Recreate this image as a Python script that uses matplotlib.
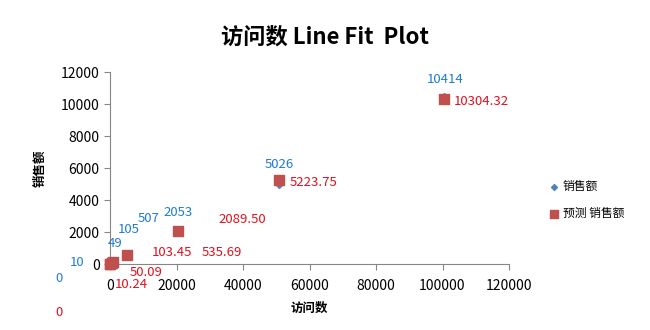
import matplotlib
matplotlib.use("Agg")
import matplotlib.pyplot as plt

plt.rcParams['font.family'] = ['Noto Sans CJK SC', 'DejaVu Sans']

# 访问数 / 销售额 / 预测 销售额
visits = [0, 100, 488, 1008, 5221, 20365, 50913, 100432]
sales = [0, 10, 49, 105, 507, 2053, 5026, 10414]
predicted = [0, 10.24, 50.09, 103.45, 535.69, 2089.50, 5223.75, 10304.32]
pred_text = ['0', '10.24', '50.09', '103.45', '535.69', '2089.50', '5223.75', '10304.32']

# label offsets from each marker, in pixels
sales_off = [(-51, -15), (-33, 1), (4, 20), (15, 33), (21, 37), (0, 19), (0, 19), (1, 18)]
pred_off = [(-51, -48), (21, -21), (35, -9), (59, 10), (95, 3), (65, 11), (34, -2), (37, -2)]

blue = '#4F81BD'
red = '#C0504D'
blue_txt = '#1F7AD6'
red_txt = '#E0101E'

fig = plt.figure(figsize=(6.5, 3.3), dpi=100)
ax = fig.add_axes([110 / 650, 66 / 330, 399 / 650, 192 / 330])

ax.scatter(visits, sales, marker='D', s=16, color=blue, label='销售额', zorder=3, clip_on=False)
ax.scatter(visits, predicted, marker='s', s=55, color=red, label='预测 销售额', zorder=4, clip_on=False)

for x, y, off in zip(visits, sales, sales_off):
    ax.annotate(str(y), (x, y), xytext=off, textcoords='offset pixels',
                ha='center', va='center', fontsize=9.5, color=blue_txt,
                annotation_clip=False)
for x, y, t, off in zip(visits, predicted, pred_text, pred_off):
    ax.annotate(t, (x, y), xytext=off, textcoords='offset pixels',
                ha='center', va='center', fontsize=9.5, color=red_txt,
                annotation_clip=False)

ax.set_xlim(0, 120000)
ax.set_ylim(0, 12000)
ax.set_xticks(range(0, 120001, 20000))
ax.set_yticks(range(0, 12001, 2000))
ax.tick_params(labelsize=10, colors='#868686', labelcolor='black', length=4, width=0.8)
ax.tick_params(axis='x', pad=7)

for s in ['top', 'right']:
    ax.spines[s].set_visible(False)
for s in ['left', 'bottom']:
    ax.spines[s].set_color('#868686')
    ax.spines[s].set_linewidth(0.8)

ax.set_xlabel('访问数', fontsize=9, fontweight='bold', labelpad=6)
ax.set_ylabel('销售额', fontsize=9, fontweight='bold', labelpad=10)

fig.text(325 / 650, 1 - 37 / 330, '访问数 Line Fit  Plot', ha='center', va='center',
         fontsize=16, fontweight='bold')

fig.legend(loc='center left', bbox_to_anchor=(545 / 650, 1 - 200 / 330), frameon=False,
           fontsize=8.5, handletextpad=0.3, handlelength=0.8, labelspacing=1.2,
           markerscale=0.75, borderaxespad=0)

fig.savefig('out.png', dpi=100)
